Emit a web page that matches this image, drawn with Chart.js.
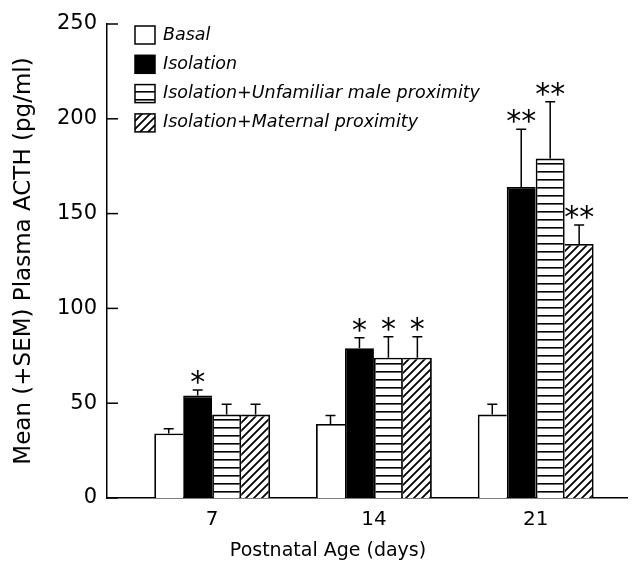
<!DOCTYPE html>
<html>
<head>
<meta charset="utf-8">
<script src="https://cdn.jsdelivr.net/npm/chart.js@4/dist/chart.umd.min.js"></script>
<style>
  html, body { margin: 0; padding: 0; background: #fff; }
  #wrap { width: 632px; height: 565px; }
</style>
</head>
<body>
<div id="wrap"><canvas id="myChart"></canvas></div>
<script>
// postnatal age (days)
const ages = [7, 14, 21];

// mean plasma ACTH (pg/ml) and SEM for each group
const basal = [34, 39, 44];
const basalSem = [2.5, 4.5, 5.5];
const isolation = [54, 79, 164];
const isolationSem = [3, 5.5, 30.5];
const unfamiliar = [44, 74, 179];
const unfamiliarSem = [5.5, 11, 30];
const maternal = [44, 74, 134];
const maternalSem = [5.5, 11, 10];

// significance marks
const basalSig = ['', '', ''];
const isolationSig = ['*', '*', '**'];
const unfamiliarSig = ['', '*', '**'];
const maternalSig = ['', '*', '**'];

const yTicks = [0, 50, 100, 150, 200, 250];
const seriesNames = ['Basal', 'Isolation', 'Isolation+Unfamiliar male proximity', 'Isolation+Maternal proximity'];

const FONT = 'DejaVu Sans';

// fill patterns
function stripePattern() {
  const c = document.createElement('canvas');
  c.width = 8; c.height = 8;
  const g = c.getContext('2d');
  g.fillStyle = '#fff';
  g.fillRect(0, 0, 8, 8);
  g.fillStyle = '#000';
  g.fillRect(0, 3, 8, 1.6);
  return g.createPattern(c, 'repeat');
}
function hatchPattern() {
  const c = document.createElement('canvas');
  c.width = 8; c.height = 8;
  const g = c.getContext('2d');
  g.fillStyle = '#fff';
  g.fillRect(0, 0, 8, 8);
  g.strokeStyle = '#000';
  g.lineWidth = 1.8;
  g.beginPath();
  g.moveTo(-1, 9); g.lineTo(9, -1);
  g.moveTo(-1, 1); g.lineTo(1, -1);
  g.moveTo(7, 9); g.lineTo(9, 7);
  g.stroke();
  return g.createPattern(c, 'repeat');
}
const fills = ['#fff', '#000', stripePattern(), hatchPattern()];

const means = [basal, isolation, unfamiliar, maternal];
const sems = [basalSem, isolationSem, unfamiliarSem, maternalSem];
const sigs = [basalSig, isolationSig, unfamiliarSig, maternalSig];

// shared edges between neighbouring bars are drawn once
const edges = [
  { top: 1.8, left: 1.8, bottom: 0, right: 0 },
  { top: 1.8, left: 1.8, bottom: 0, right: 0 },
  { top: 1.8, left: 1.8, bottom: 0, right: 1.8 },
  { top: 1.8, left: 0, bottom: 0, right: 1.8 }
];

const datasets = means.map((vals, k) => ({
  label: seriesNames[k],
  data: ages.map((a, i) => ({ x: a, y: vals[i] })),
  backgroundColor: fills[k],
  borderColor: '#000',
  borderWidth: edges[k],
  sem: sems[k],
  sig: sigs[k]
}));

// error bars, stars, inward ticks, legend and x title
const extras = {
  id: 'extras',
  afterDatasetsDraw(chart) {
    const ctx = chart.ctx;
    const y = chart.scales.y;
    ctx.save();
    ctx.strokeStyle = '#000';
    ctx.fillStyle = '#000';
    ctx.lineWidth = 1.5;
    chart.data.datasets.forEach((ds, k) => {
      const meta = chart.getDatasetMeta(k);
      meta.data.forEach((bar, i) => {
        const top = y.getPixelForValue(ds.data[i].y + ds.sem[i]);
        ctx.beginPath();
        ctx.moveTo(bar.x, bar.y);
        ctx.lineTo(bar.x, top);
        ctx.moveTo(bar.x - 5, top);
        ctx.lineTo(bar.x + 5, top);
        ctx.stroke();
        const s = ds.sig[i];
        if (s) {
          ctx.font = '30px ' + FONT;
          ctx.textAlign = 'center';
          ctx.textBaseline = 'alphabetic';
          const m = ctx.measureText(s);
          const mid = (m.actualBoundingBoxAscent - m.actualBoundingBoxDescent) / 2;
          ctx.fillText(s, bar.x, top - 13 + mid);
        }
      });
    });
    ctx.restore();
  },
  afterDraw(chart) {
    const ctx = chart.ctx;
    const area = chart.chartArea;
    const y = chart.scales.y;
    ctx.save();
    ctx.strokeStyle = '#000';
    ctx.lineWidth = 1.5;
    y.ticks.forEach(t => {
      const py = y.getPixelForValue(t.value);
      ctx.beginPath();
      ctx.moveTo(area.left, py);
      ctx.lineTo(area.left + 11, py);
      ctx.stroke();
    });

    // legend
    ctx.font = 'italic 17.5px ' + FONT;
    ctx.textAlign = 'left';
    ctx.textBaseline = 'middle';
    seriesNames.forEach((name, k) => {
      const bx = 135, by = 26 + k * 29.3;
      ctx.fillStyle = fills[k];
      ctx.fillRect(bx, by, 20, 18);
      ctx.strokeRect(bx, by, 20, 18);
      ctx.fillStyle = '#000';
      ctx.fillText(name, 163, by + 9);
    });

    // x title
    ctx.font = '19px ' + FONT;
    ctx.textAlign = 'center';
    ctx.textBaseline = 'middle';
    ctx.fillText('Postnatal Age (days)', 328, 551);
    ctx.restore();
  }
};

const ctx = document.getElementById('myChart');
const myChart = new Chart(ctx, {
  type: 'bar',
  data: { datasets: datasets },
  plugins: [extras],
  options: {
    responsive: true,
    maintainAspectRatio: false,
    animation: false,
    layout: { padding: { top: 24, right: 5, left: 0, bottom: 0 } },
    datasets: {
      bar: { categoryPercentage: 0.716, barPercentage: 1 }
    },
    scales: {
      x: {
        type: 'linear',
        min: 2.45,
        max: 24.95,
        offset: false,
        afterBuildTicks: axis => { axis.ticks = ages.map(v => ({ value: v })); },
        afterFit: axis => { axis.height = 67; },
        grid: { display: false, drawTicks: false, offset: false },
        border: { display: true, color: '#000', width: 1.5 },
        ticks: {
          padding: 10,
          autoSkip: false,
          maxRotation: 0,
          color: '#000',
          font: { family: FONT, size: 20 }
        }
      },
      y: {
        min: 0,
        max: 250,
        afterBuildTicks: axis => { axis.ticks = yTicks.map(v => ({ value: v })); },
        afterFit: axis => { axis.width = 107; },
        grid: { display: false, drawTicks: false },
        border: { display: true, color: '#000', width: 1.5 },
        ticks: {
          padding: 10,
          color: '#000',
          font: { family: FONT, size: 21 }
        },
        title: {
          display: true,
          text: 'Mean (+SEM) Plasma ACTH (pg/ml)',
          color: '#000',
          font: { family: FONT, size: 23 },
          padding: { top: 10, bottom: 0 }
        }
      }
    },
    plugins: {
      legend: { display: false },
      tooltip: { enabled: false }
    }
  }
});
</script>
</body>
</html>
